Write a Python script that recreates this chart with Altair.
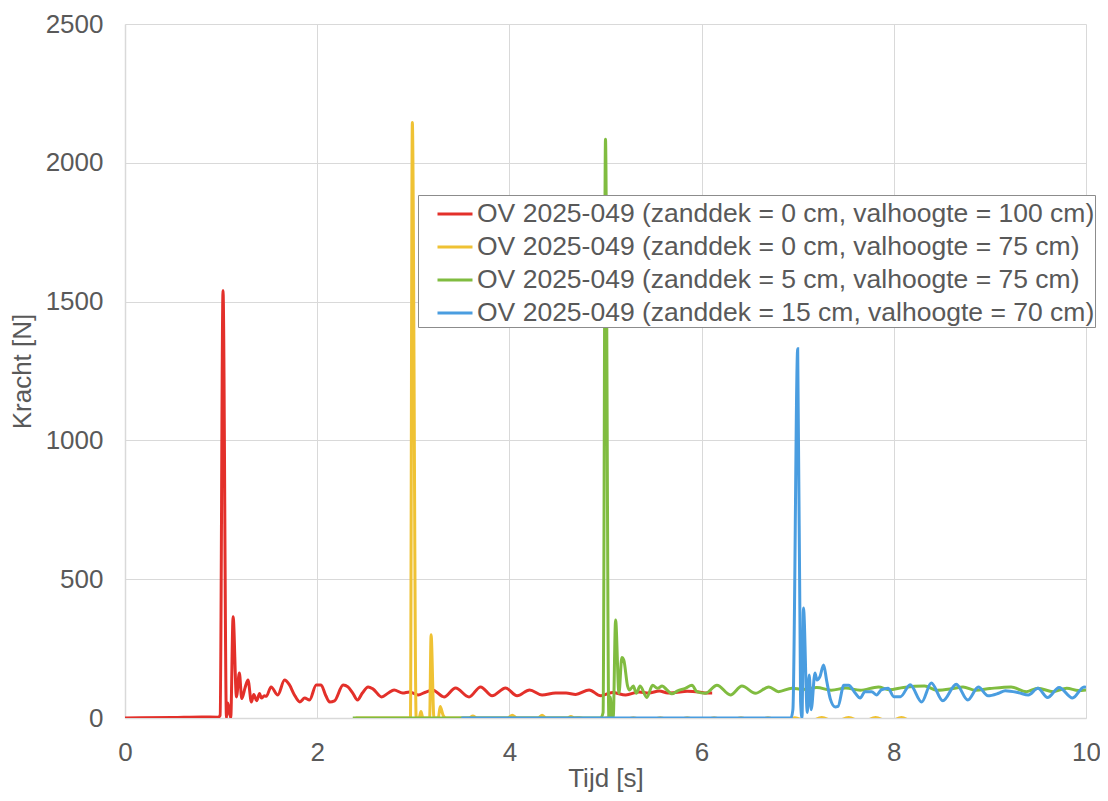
import altair as alt
import pandas as pd

FONT = "Liberation Sans"
TEXT = "#595959"

names = [
    "OV 2025-049 (zanddek = 0 cm, valhoogte = 100 cm)",
    "OV 2025-049 (zanddek = 0 cm, valhoogte = 75 cm)",
    "OV 2025-049 (zanddek = 5 cm, valhoogte = 75 cm)",
    "OV 2025-049 (zanddek = 15 cm, valhoogte = 70 cm)",
]
colors = ["#e3302a", "#efc234", "#80bc40", "#4a9de0"]

x_ticks = [0, 2, 4, 6, 8, 10]
y_ticks = [0, 500, 1000, 1500, 2000, 2500]

# (time [s], force [N])
red = [(0, 0), (0.5, 2), (0.8, 4), (0.97, 3), (0.99, 10), (1.02, 1540), (1.056, 0), (1.07, 54),
       (1.10, 0), (1.125, 365), (1.16, 76), (1.19, 162), (1.215, 70), (1.25, 110), (1.28, 137),
       (1.315, 58), (1.34, 85), (1.37, 62), (1.40, 88), (1.42, 72), (1.45, 80), (1.47, 78),
       (1.52, 112), (1.59, 83), (1.66, 137), (1.71, 120), (1.76, 85), (1.82, 58), (1.87, 72),
       (1.92, 65), (1.99, 119), (2.04, 119), (2.09, 80), (2.13, 58), (2.18, 62), (2.27, 119),
       (2.32, 112), (2.37, 90), (2.42, 65), (2.47, 90), (2.53, 112), (2.58, 105), (2.67, 76),
       (2.74, 90), (2.80, 101), (2.89, 90), (2.96, 94), (3.05, 83), (3.12, 92), (3.20, 101),
       (3.32, 76), (3.44, 108), (3.58, 76), (3.70, 112), (3.82, 80), (3.96, 108), (4.08, 80),
       (4.21, 101), (4.34, 83), (4.48, 90), (4.59, 90), (4.69, 85), (4.83, 101), (4.95, 80),
       (5.07, 92), (5.21, 83), (5.35, 94), (5.45, 90), (5.56, 97), (5.65, 90), (5.73, 92),
       (5.85, 96), (5.97, 94), (6.05, 90), (6.11, 90)]

yellow = [(2.40, 0), (2.97, 0), (2.99, 2145), (3.03, 0), (3.06, 0), (3.08, 23), (3.10, 0),
          (3.17, 0), (3.185, 300), (3.215, 0), (3.26, 0), (3.28, 41), (3.31, 10), (3.34, 0),
          (3.58, 0), (3.62, 7), (3.66, 0), (3.98, 0), (4.03, 10), (4.08, 0), (4.30, 0),
          (4.34, 10), (4.38, 0), (4.60, 0), (4.64, 5), (4.68, 0), (4.73, 1), (4.87, -15),
          (5.01, 1), (5.15, -14), (5.29, 1), (5.43, -15), (5.57, 1), (5.71, -14), (5.85, 1),
          (5.99, -15), (6.13, 1), (6.27, -14), (6.41, 1), (6.55, -15), (6.69, 1), (6.83, -14),
          (6.97, 1), (7.11, -15), (7.25, 2), (7.39, -14), (7.53, 2), (7.67, -15), (7.81, 2),
          (7.95, -14), (8.08, 2), (8.15, -8)]

green = [(2.37, 0), (4.95, 0), (4.975, 20), (5.0, 2085), (5.035, 0), (5.05, 76), (5.065, 0),
         (5.08, 0), (5.105, 353), (5.14, 89), (5.17, 218), (5.19, 209), (5.23, 115), (5.25, 101),
         (5.29, 115), (5.32, 89), (5.36, 115), (5.43, 74), (5.49, 118), (5.54, 107), (5.59, 115),
         (5.64, 101), (5.69, 87), (5.75, 98), (5.83, 107), (5.90, 118), (5.95, 95), (6.04, 89),
         (6.16, 118), (6.30, 83), (6.42, 115), (6.56, 89), (6.70, 112), (6.80, 95), (6.94, 107),
         (7.05, 103), (7.20, 110), (7.35, 100), (7.50, 108), (7.65, 100), (7.84, 112), (7.95, 102),
         (8.10, 110), (8.32, 115), (8.45, 100), (8.60, 105), (8.72, 112), (8.85, 100), (9.00, 106),
         (9.22, 112), (9.38, 95), (9.50, 107), (9.66, 95), (9.80, 107), (9.92, 99), (10.0, 101)]

blue = [(3.50, 0), (6.93, 0), (6.95, 30), (7.0, 1330), (7.03, 60), (7.045, 0), (7.06, 396),
        (7.10, 20), (7.12, 155), (7.14, 30), (7.18, 162), (7.20, 137), (7.23, 148), (7.27, 191),
        (7.30, 137), (7.34, 68), (7.39, 40), (7.42, 42), (7.48, 118), (7.53, 118), (7.60, 89),
        (7.65, 72), (7.70, 95), (7.77, 95), (7.82, 83), (7.87, 101), (7.94, 107), (8.00, 77),
        (8.07, 77), (8.17, 120), (8.29, 58), (8.39, 126), (8.51, 62), (8.65, 122), (8.77, 65),
        (8.88, 112), (8.98, 80), (9.09, 89), (9.16, 98), (9.30, 91), (9.40, 83), (9.50, 107),
        (9.60, 74), (9.72, 110), (9.86, 72), (9.98, 112), (10.0, 110)]

series = [red, yellow, green, blue]

x_scale = alt.Scale(domain=[0, 10], nice=False, zero=False)
y_scale = alt.Scale(domain=[0, 2500], nice=False)
c_scale = alt.Scale(domain=names, range=colors)
x_axis = alt.Axis(values=x_ticks, format="d", title="Tijd [s]", labelFlush=False)
y_axis = alt.Axis(values=y_ticks, format="d", title="Kracht [N]", labelFlush=False)
legend = alt.Legend(orient="none", legendX=293, legendY=171)

layers = []
for name, pts in zip(names, series):
    df = pd.DataFrame(pts, columns=["t", "F"])
    df["serie"] = name
    df["i"] = range(len(df))
    layer = alt.Chart(df).mark_line(strokeWidth=3, clip=True, interpolate="monotone").encode(
        x=alt.X("t:Q", scale=x_scale, axis=x_axis),
        y=alt.Y("F:Q", scale=y_scale, axis=y_axis),
        color=alt.Color("serie:N", scale=c_scale, title=None, legend=legend),
        order="i:Q",
    )
    layers.append(layer)

chart = alt.layer(*layers).properties(
    width=961,
    height=694,
    autosize=alt.AutoSizeParams(type="none"),
    padding={"left": 117, "top": 16, "right": 14, "bottom": 74},
    background="white",
).configure_view(stroke=None).configure_axis(
    labelFont=FONT, titleFont=FONT, labelFontSize=26, titleFontSize=26,
    labelColor=TEXT, titleColor=TEXT, titleFontWeight="normal",
    gridColor="#d9d9d9", gridWidth=1, domainColor="#d9d9d9", domainWidth=1.5,
    ticks=False,
).configure_axisX(
    labelPadding=21, titlePadding=0,
).configure_axisY(
    labelPadding=22, titlePadding=10,
).configure_legend(
    labelFont=FONT, labelFontSize=26.5, labelColor=TEXT,
    symbolType="stroke", symbolStrokeWidth=3, symbolSize=1225,
    symbolOffset=18, labelOffset=3, rowPadding=-3, padding=0,
    strokeColor="#8c8c8c", fillColor="white", labelLimit=800,
)

chart.save("out.html", embed_options={"renderer": "svg", "actions": False})
